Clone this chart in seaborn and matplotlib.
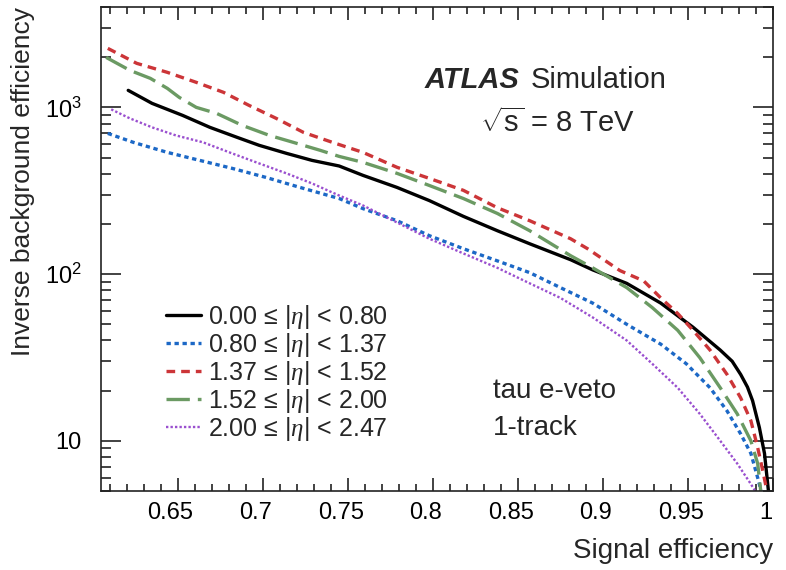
import matplotlib
matplotlib.use("Agg")
import matplotlib.pyplot as plt
import matplotlib.ticker as mticker
import matplotlib.transforms as mtransforms
import numpy as np
import pandas as pd
import seaborn as sns

# signal efficiency / inverse background efficiency per |eta| bin
eff_000_080 = [0.621, 0.635, 0.653, 0.669, 0.685, 0.698, 0.714, 0.729, 0.745, 0.759, 0.779, 0.798,
               0.818, 0.838, 0.857, 0.881, 0.894, 0.914, 0.934, 0.953, 0.969, 0.976, 0.981, 0.985,
               0.988, 0.992, 0.995, 0.9975]
rej_000_080 = [1265, 1057, 895, 759, 661, 592, 530, 481, 445, 391, 331, 276,
               222, 182, 152, 122, 106, 88, 67, 48, 35, 30, 25, 21,
               17.4, 12.0, 8.4, 4.8]

eff_080_137 = [0.609, 0.624, 0.644, 0.663, 0.682, 0.702, 0.722, 0.745, 0.759, 0.779, 0.798, 0.818,
               0.838, 0.857, 0.875, 0.894, 0.914, 0.934, 0.949, 0.963, 0.973, 0.981, 0.987, 0.991,
               0.9935]
rej_080_137 = [698, 617, 537, 481, 431, 380, 331, 284, 247, 209, 170, 142,
               120, 102, 83, 67, 50, 38, 29, 20.8, 15.1, 11.0, 8.4, 6.0,
               4.8]

eff_137_152 = [0.609, 0.626, 0.644, 0.661, 0.677, 0.692, 0.708, 0.724, 0.741, 0.759, 0.779, 0.798,
               0.818, 0.838, 0.857, 0.881, 0.891, 0.910, 0.924, 0.934, 0.944, 0.953, 0.963, 0.973,
               0.981, 0.987, 0.991, 0.994, 0.9968]
rej_137_152 = [2259, 1837, 1622, 1413, 1231, 1028, 859, 708, 617, 537, 437, 375,
               318, 250, 209, 163, 142, 105, 91, 72, 58, 46, 35, 25,
               18.1, 13.2, 9.1, 6.6, 4.8]

eff_152_200 = [0.608, 0.622, 0.634, 0.644, 0.651, 0.661, 0.673, 0.688, 0.704, 0.718, 0.734, 0.745,
               0.759, 0.779, 0.798, 0.818, 0.838, 0.857, 0.881, 0.894, 0.914, 0.929, 0.944, 0.957,
               0.969, 0.979, 0.987, 0.991, 0.993]
rej_152_200 = [1995, 1667, 1493, 1300, 1148, 1000, 920, 780, 679, 617, 552, 508,
               468, 402, 340, 284, 231, 182, 129, 109, 83, 63, 46, 31.5,
               20.8, 14.5, 10.0, 7.3, 4.8]

eff_200_247 = [0.611, 0.622, 0.635, 0.649, 0.665, 0.682, 0.698, 0.714, 0.729, 0.745, 0.759, 0.779,
               0.798, 0.818, 0.838, 0.857, 0.875, 0.894, 0.914, 0.929, 0.944, 0.957, 0.969, 0.979,
               0.987, 0.9906]
rej_200_247 = [973, 859, 759, 679, 617, 530, 461, 402, 350, 296, 258, 204,
               163, 133, 109, 88, 72, 55, 40, 29, 20.8, 14.5, 10.0, 7.3,
               5.5, 4.8]

labels = ["0.00 ≤ |$\\eta$| < 0.80", "0.80 ≤ |$\\eta$| < 1.37", "1.37 ≤ |$\\eta$| < 1.52",
          "1.52 ≤ |$\\eta$| < 2.00", "2.00 ≤ |$\\eta$| < 2.47"]

xtick_vals = [0.65, 0.7, 0.75, 0.8, 0.85, 0.9, 0.95, 1.0]
xtick_labels = ["0.65", "0.7", "0.75", "0.8", "0.85", "0.9", "0.95", "1"]
ytick_vals = [10, 100, 1000]
ytick_labels = ["10", "$\\mathregular{10^{2}}$", "$\\mathregular{10^{3}}$"]

sns.set_style("ticks")
plt.rcParams['font.family'] = ['Liberation Sans', 'DejaVu Sans']
plt.rcParams['mathtext.fontset'] = 'custom'
plt.rcParams['mathtext.rm'] = 'Liberation Sans'
plt.rcParams['mathtext.it'] = 'Liberation Serif:italic'
plt.rcParams['mathtext.bf'] = 'Liberation Sans:bold'

fig = plt.figure(figsize=(7.86, 5.70), dpi=100)
ax = fig.add_axes([101 / 786, 79 / 570, 672 / 786, 484 / 570])

curves = [
    (eff_000_080, rej_000_080, "black", 2.4, "-"),
    (eff_080_137, rej_080_137, "#1c68c6", 2.4, (0, (1.3, 1.1))),
    (eff_137_152, rej_137_152, "#cc3538", 2.4, (0, (2.6, 1.8))),
    (eff_152_200, rej_152_200, "#6b9a63", 2.4, (0, (7.0, 2.4))),
    (eff_200_247, rej_200_247, "#9a4fcf", 1.7, (0, (1.0, 0.9))),
]
for (xs, ys, col, lw, ls), lab in zip(curves, labels):
    df = pd.DataFrame({"eff": xs, "rej": ys})
    sns.lineplot(data=df, x="eff", y="rej", ax=ax, color=col, lw=lw, linestyle=ls,
                 label=lab, sort=False, estimator=None)

ax.set_yscale("log")
ax.set_xlim(0.605, 1.0)
ax.set_ylim(5, 4000)

ax.xaxis.set_major_locator(mticker.FixedLocator(xtick_vals))
ax.xaxis.set_major_formatter(mticker.FixedFormatter(xtick_labels))
ax.xaxis.set_minor_locator(mticker.MultipleLocator(0.01))
ax.yaxis.set_major_locator(mticker.FixedLocator(ytick_vals))
ax.yaxis.set_major_formatter(mticker.FixedFormatter(ytick_labels))
ax.yaxis.set_minor_locator(mticker.LogLocator(base=10, subs=np.arange(2, 10)))
ax.yaxis.set_minor_formatter(mticker.NullFormatter())

for sp in ax.spines.values():
    sp.set_linewidth(1.2)
    sp.set_color("#222222")
ax.tick_params(which="both", direction="in", top=True, right=True, width=1.2, colors="#222222",
               labelcolor="black")
ax.tick_params(axis="x", which="major", length=9.5, labelsize=17, pad=8)
ax.tick_params(axis="x", which="minor", length=5)
ax.tick_params(axis="y", which="major", length=14.5, labelsize=17, pad=14)
ax.tick_params(axis="y", which="minor", length=7.5)

# ROOT puts x labels a touch left of the tick
shift = mtransforms.ScaledTranslation(-7 / 100, 0, fig.dpi_scale_trans)
for t in ax.get_xticklabels():
    t.set_transform(t.get_transform() + shift)

ax.set_xlabel("Signal efficiency", fontsize=20, loc="right", labelpad=10)
ax.set_ylabel("")
fig.text(23 / 786, 1 - 7 / 570, "Inverse background efficiency", rotation=90, fontsize=19,
         ha="center", va="top")

ax.legend(loc="upper left", bbox_to_anchor=(0.0967, 0.388), frameon=False, fontsize=18,
          handlelength=1.4, handletextpad=0.3, labelspacing=0.0, borderpad=0,
          borderaxespad=0)

ax.text(0.482, 0.833, "ATLAS", transform=ax.transAxes, fontsize=21, fontweight="bold",
        fontstyle="italic", va="baseline", ha="left")
ax.text(0.640, 0.833, "Simulation", transform=ax.transAxes, fontsize=21, va="baseline", ha="left")
ax.text(0.564, 0.742, "$\\sqrt{\\mathrm{s}}$ = 8 TeV", transform=ax.transAxes, fontsize=21,
        va="baseline", ha="left")
ax.text(0.583, 0.192, "tau e-veto", transform=ax.transAxes, fontsize=20, va="baseline", ha="left")
ax.text(0.583, 0.116, "1-track", transform=ax.transAxes, fontsize=20, va="baseline", ha="left")

fig.savefig("out.png", dpi=100)
